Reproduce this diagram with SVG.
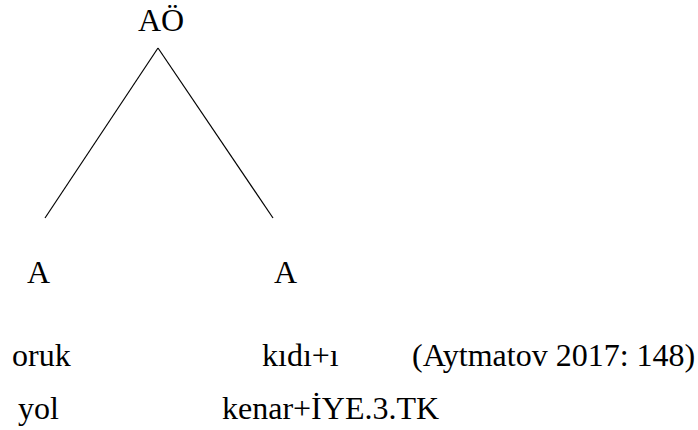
<svg xmlns="http://www.w3.org/2000/svg" width="698" height="430" viewBox="0 0 698 430">
<style>
text{font-family:'Liberation Serif','DejaVu Serif',serif;font-size:32px;fill:#000}
line{stroke:#000;stroke-width:1.2}
</style>
<rect width="698" height="430" fill="#fff"/>
<g id="connectors">
<line x1="158" y1="48" x2="45" y2="218"/>
<line x1="158" y1="48" x2="273" y2="218"/>
</g>
<g id="root"><text x="138" y="31">AÖ</text></g>
<g id="left"><text x="27" y="283">A</text></g>
<g id="right"><text x="274" y="283">A</text></g>
<g id="gloss">
<text x="12" y="366">oruk</text>
<text x="262" y="366">kıdı+ı</text>
<text x="412" y="366">(Aytmatov 2017: 148)</text>
<text x="18" y="419">yol</text>
<text x="222" y="419">kenar+İYE.3.TK</text>
</g>
</svg>
